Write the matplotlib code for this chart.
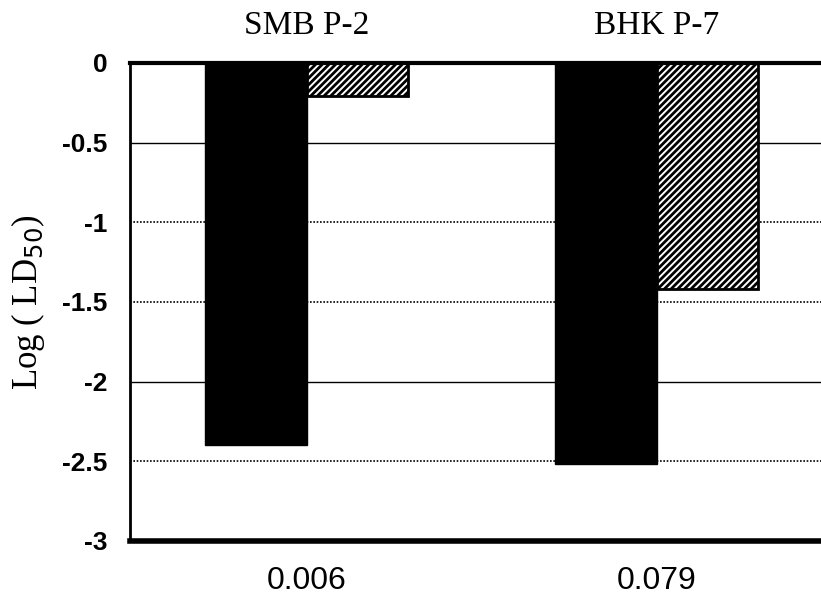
import matplotlib
matplotlib.use("Agg")
import matplotlib.pyplot as plt
import numpy as np

groups = ["SMB P-2", "BHK P-7"]
bottom_labels = ["0.006", "0.079"]
black_vals = [-2.40, -2.52]
hatched_vals = [-0.21, -1.42]
yticks = [0, -0.5, -1, -1.5, -2, -2.5, -3]
ytick_labels = ["0", "-0.5", "-1", "-1.5", "-2", "-2.5", "-3"]
solid_grid = [-0.5, -2]
dotted_grid = [-1, -1.5, -2.5]

plt.rcParams['hatch.linewidth'] = 2.0
fig = plt.figure(figsize=(8.21, 6.05), dpi=100)
ax = fig.add_axes([0.158, 0.106, 0.842, 0.790])

x = np.arange(len(groups))
w = 0.29
for g in solid_grid:
    ax.axhline(g, color="black", lw=1.0, zorder=1)
for g in dotted_grid:
    ax.axhline(g, color="black", lw=1.2, ls=(0, (1, 1)), zorder=1)

ax.bar(x - w / 2, black_vals, width=w, color="black", edgecolor="black", zorder=2)
ax.bar(x + w / 2, hatched_vals, width=w, color="white", edgecolor="black",
       hatch="/////", lw=2, zorder=2)

ax.set_xlim(-0.506, 1.469)
ax.set_ylim(-3, 0)
ax.set_yticks(yticks)
ax.set_yticklabels(ytick_labels, fontfamily="Liberation Sans", fontweight="bold", fontsize=19)
ax.tick_params(axis="y", length=0, pad=16)
ax.set_xticks(x)
ax.set_xticklabels(bottom_labels, fontfamily="Liberation Sans", fontsize=23)
ax.tick_params(axis="x", length=0, pad=18)

for xi, g in zip(x, groups):
    ax.text(xi, 1.045, g, transform=ax.get_xaxis_transform(), ha="center", va="bottom",
            fontfamily="Liberation Serif", fontsize=24)

fig.text(0.034, 0.5, "Log ( LD$_{50}$)", rotation=90, ha="center", va="center",
         fontfamily="Liberation Serif", fontsize=25)

ax.spines["right"].set_visible(False)
ax.spines["top"].set_linewidth(3)
ax.spines["bottom"].set_linewidth(4)
ax.spines["left"].set_linewidth(2)

fig.savefig("out.png", dpi=100)
